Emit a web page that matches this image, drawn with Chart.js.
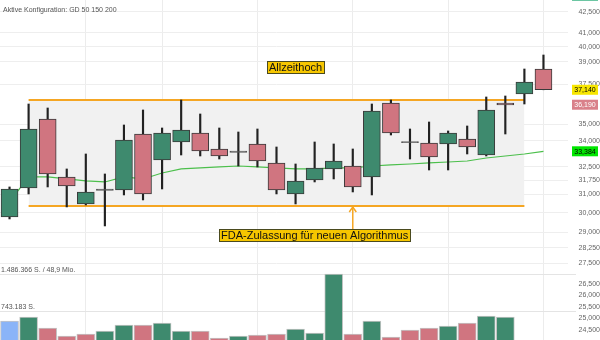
<!DOCTYPE html>
<html><head><meta charset="utf-8">
<script src="https://cdn.jsdelivr.net/npm/chart.js@4"></script>
<style>html,body{margin:0;padding:0;background:#fff}#wrap{width:600px;height:340px;position:relative}</style>
</head><body><div id="wrap"><canvas id="c" width="600" height="340"></canvas></div>
<script>
// ---------- data ----------
const categories = ['T1','T2','T3','T4','T5','T6','T7','T8','T9','T10','T11','T12','T13','T14','T15','T16','T17','T18','T19','T20','T21','T22','T23','T24','T25','T26','T27','T28','T29'];
const openP  = [29793,31328,35307,31931,30472,31200,31220,34400,32885,33927,34460,33518,33320,33810,32715,31005,31765,32377,32545,31931,36299,33950,33868,33810,34104,33171,36299,36870,38502];
const highP  = [31383,36236,35986,32377,33229,32097,34941,35862,34760,36488,35614,34760,34520,34700,33634,32658,33927,33810,33518,36236,36488,34700,35123,34580,34881,36679,36742,38502,39448];
const lowP   = [29690,31005,31383,30314,30419,29332,30951,30684,31274,33171,33114,32942,32545,32489,31005,30472,31656,31821,31112,30951,34341,32942,32320,32320,33229,33114,34400,36236,37140];
const closeP = [31274,34700,32097,31437,31112,31270,34045,31005,34460,34640,33402,33114,33390,32828,31220,31711,32433,32828,31383,35800,34460,33880,33057,34460,33634,35862,36173,37644,37140];
const volume = [542000,622700,401700,241000,281200,341500,462000,462000,502200,341500,341500,200900,241000,261100,281200,381600,301300,1486366,281200,542300,220900,361500,401700,441900,502200,642700,622700,null,null];
const ma50   = [30577,31931,31931,31821,31711,31656,31931,31821,32153,32377,32433,32489,32545,32489,32433,32377,32377,32433,32433,32545,32602,32658,32715,32771,32828,32999,33114,33229,33384];
const rangeUpper = 36488, rangeLower = 30366, rangeStart = 1, rangeEnd = 27;
const priceTicks = [42500,41000,40000,39000,37500,35000,34000,32500,31750,31000,30000,29000,28250,27500,26500,26000,25500,25000,24500];
const priceMin = 24071, priceMax = 43393;
const volumeMax = 1486366, volumeTurnover = '48,9 Mio.';
const weekStarts = [4,8,13,18,23,28];
const axisTags = [
  {value: 43700, text: '', bg: '#62c29d', fg: '#000'},
  {value: 37140, text: '37,140', bg: '#f7e600', fg: '#000'},
  {value: 36190, text: '36,190', bg: '#d9808a', fg: '#fff'},
  {value: 33384, text: '33,384', bg: '#00e600', fg: '#000'}
];
const headerText = 'Aktive Konfiguration: GD 50 150 200';
const athNote = {text: 'Allzeithoch', index: 15, value: 38600};
const fdaNote = {text: 'FDA-Zulassung für neuen Algorithmus', index: 16, value: 28852, arrowIndex: 18};

// ---------- helpers ----------
const FONT = 'Arial, "Liberation Sans", sans-serif';
const GREEN = '#3e8a6e', RED = '#d07580', BLUE = '#8ab4f8', ORANGE = '#f5a623';
const fmtComma = v => String(Math.round(v)).replace(/\B(?=(\d{3})+(?!\d))/g, ',');
const fmtDot = v => String(Math.round(v)).replace(/\B(?=(\d{3})+(?!\d))/g, '.');
const isDoji = i => Math.abs(closeP[i] - openP[i]) / openP[i] < 0.003;
const bodyColors = categories.map((_, i) => isDoji(i) ? '#555' : (closeP[i] >= openP[i] ? GREEN : RED));
const bodyBorders = categories.map((_, i) => isDoji(i) ? '#555' : '#3a3a3a');
const volColors = volume.map((_, i) => i === 0 ? BLUE : (closeP[i] >= closeP[i-1] ? GREEN : RED));
const rangeData = v => categories.map((_, i) => (i >= rangeStart && i <= rangeEnd) ? v : null);

const overlay = {
  id: 'overlay',
  beforeDatasetsDraw(chart) {
    const ctx = chart.ctx, vs = chart.scales.vol;
    ctx.save();
    ctx.strokeStyle = '#e4e4e4'; ctx.lineWidth = 1;
    [volumeMax, volumeMax / 2].forEach(v => {
      const y = Math.round(vs.getPixelForValue(v)) + 0.5;
      ctx.beginPath(); ctx.moveTo(0, y); ctx.lineTo(576, y); ctx.stroke();
    });
    ctx.fillStyle = '#555'; ctx.font = '7px ' + FONT; ctx.textAlign = 'left'; ctx.textBaseline = 'middle';
    ctx.fillText(fmtDot(volumeMax) + ' S. / ' + volumeTurnover, 1, vs.getPixelForValue(volumeMax) - 3.5);
    ctx.fillText(fmtDot(volumeMax / 2) + ' S.', 1, vs.getPixelForValue(volumeMax / 2) - 3.5);
    ctx.fillText(headerText, 3, 10);
    ctx.restore();
  },
  afterDraw(chart) {
    const ctx = chart.ctx, xs = chart.scales.x, ys = chart.scales.y;
    ctx.save();
    // axis tags
    ctx.font = '7px ' + FONT; ctx.textBaseline = 'middle'; ctx.textAlign = 'center';
    axisTags.forEach(t => {
      const y = ys.getPixelForValue(t.value);
      ctx.fillStyle = t.bg; ctx.fillRect(572, y - 5, 26, 10);
      if (t.text) { ctx.fillStyle = t.fg; ctx.fillText(t.text, 585, y + 0.5); }
    });
    // notes
    const tag = (text, cx, cy) => {
      ctx.font = '11px ' + FONT;
      const w = Math.round(ctx.measureText(text).width + 5), h = 13;
      const x0 = Math.round(cx - w / 2), y0 = Math.round(cy - h / 2);
      ctx.fillStyle = '#f6c600'; ctx.fillRect(x0, y0, w, h);
      ctx.strokeStyle = '#4a4a1e'; ctx.lineWidth = 1; ctx.strokeRect(x0 + 0.5, y0 + 0.5, w - 1, h - 1);
      ctx.fillStyle = '#111'; ctx.textAlign = 'center'; ctx.textBaseline = 'middle';
      ctx.fillText(text, cx, cy + 0.5);
      return {top: y0};
    };
    tag(athNote.text, xs.getPixelForValue(athNote.index), ys.getPixelForValue(athNote.value));
    const b = tag(fdaNote.text, xs.getPixelForValue(fdaNote.index), ys.getPixelForValue(fdaNote.value));
    const ax = xs.getPixelForValue(fdaNote.arrowIndex), ay = ys.getPixelForValue(rangeLower) + 1;
    ctx.strokeStyle = ORANGE; ctx.lineWidth = 1.5;
    ctx.beginPath(); ctx.moveTo(ax, b.top); ctx.lineTo(ax, ay); ctx.stroke();
    ctx.beginPath(); ctx.moveTo(ax - 3.5, ay + 5); ctx.lineTo(ax, ay); ctx.lineTo(ax + 3.5, ay + 5); ctx.stroke();
    ctx.restore();
  }
};

new Chart(document.getElementById('c'), {
  data: {
    labels: categories,
    datasets: [
      {type: 'line', data: rangeData(rangeUpper), borderColor: ORANGE, borderWidth: 2, pointRadius: 0, fill: '+1', backgroundColor: '#f1f1f1', order: 20, yAxisID: 'y'},
      {type: 'line', data: rangeData(rangeLower), borderColor: ORANGE, borderWidth: 2, pointRadius: 0, fill: false, order: 19, yAxisID: 'y'},
      {type: 'line', data: ma50, borderColor: '#4cbf4c', borderWidth: 1.2, pointRadius: 0, tension: 0, fill: false, order: 15, yAxisID: 'y'},
      {type: 'bar', data: volume, yAxisID: 'vol', backgroundColor: volColors, borderColor: 'rgba(190,190,190,0.9)', borderWidth: 1, borderSkipped: false, barThickness: 18, grouped: false, order: 12},
      {type: 'bar', data: categories.map((_, i) => [lowP[i], highP[i]]), yAxisID: 'y', backgroundColor: '#222', borderWidth: 0, barThickness: 1.5, grouped: false, order: 6},
      {type: 'bar', data: categories.map((_, i) => [openP[i], closeP[i]]), yAxisID: 'y', backgroundColor: bodyColors, borderColor: bodyBorders, borderWidth: 1, borderSkipped: false, barThickness: 17, grouped: false, order: 5}
    ]
  },
  options: {
    responsive: false, animation: false, events: [],
    layout: {padding: 0},
    plugins: {legend: {display: false}, tooltip: {enabled: false}, title: {display: false}},
    scales: {
      x: {type: 'category', offset: true,
          grid: {offset: false, drawTicks: false, color: c => weekStarts.includes(c.index) ? '#ececec' : 'rgba(0,0,0,0)'},
          ticks: {display: false}, border: {display: false}},
      y: {type: 'logarithmic', position: 'right', min: priceMin, max: priceMax,
          afterBuildTicks: s => { s.ticks = priceTicks.map(v => ({value: v})); },
          afterFit: s => { s.width = 47; s.paddingTop = 0; s.paddingBottom = 0; },
          ticks: {callback: v => fmtComma(v), font: {size: 7, family: FONT}, color: '#666', padding: 6, crossAlign: 'far', autoSkip: false},
          grid: {color: c => (c.tick && c.tick.value >= 27500) ? '#eeeeee' : 'rgba(0,0,0,0)', tickLength: 15, drawTicks: true},
          border: {display: false}},
      vol: {type: 'linear', display: false, min: volumeMax * 8 / 74, max: volumeMax * 348 / 74}
    }
  },
  plugins: [overlay]
});
</script>
</body></html>
